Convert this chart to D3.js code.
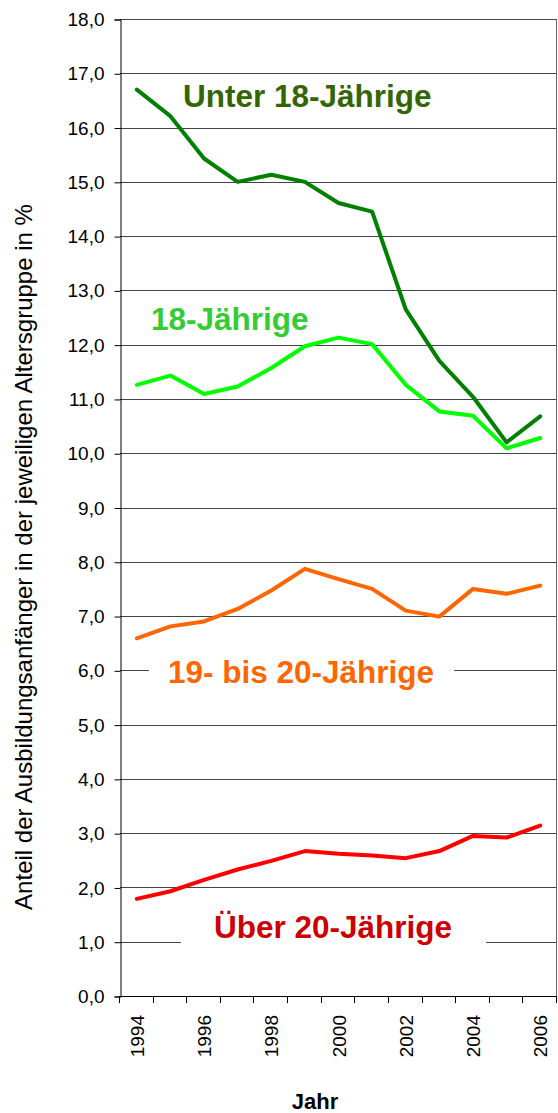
<!DOCTYPE html>
<html>
<head>
<meta charset="utf-8">
<script src="https://cdn.jsdelivr.net/npm/d3@7"></script>
<style>
  body { margin: 0; background: #fff; }
  svg { display: block; }
</style>
</head>
<body>
<svg></svg>
<script>
// data
let years = [1994, 1995, 1996, 1997, 1998, 1999, 2000, 2001, 2002, 2003, 2004, 2005, 2006];
let unter18 = [16.70, 16.21, 15.43, 15.00, 15.13, 15.00, 14.61, 14.45, 12.65, 11.70, 11.04, 10.20, 10.68];
let jahr18 = [11.26, 11.43, 11.09, 11.23, 11.57, 11.97, 12.13, 12.01, 11.26, 10.77, 10.69, 10.09, 10.28];
let jahr19bis20 = [6.59, 6.81, 6.90, 7.13, 7.47, 7.87, 7.68, 7.50, 7.10, 6.99, 7.50, 7.41, 7.56];
let ueber20 = [1.79, 1.93, 2.14, 2.33, 2.49, 2.67, 2.62, 2.59, 2.54, 2.67, 2.95, 2.92, 3.14];
let yTicks = d3.range(0, 19, 1);
let xLabels = [1994, 1996, 1998, 2000, 2002, 2004, 2006];

let svgWidth = 558,
    svgHeight = 1113;

let font = 'Liberation Sans, Arial, sans-serif';

let svg = d3.select('svg')
            .attr('width', svgWidth)
            .attr('height', svgHeight);

let plotLeft = 120, plotRight = 557, plotTop = 19, plotBottom = 996;

let x = d3.scaleBand()
          .domain(years)
          .range([plotLeft, plotRight])
          .padding(0);

let y = d3.scaleLinear()
          .domain([0, 18])
          .range([plotBottom, plotTop]);

// horizontal gridlines
svg.append('g')
   .selectAll('line')
   .data(yTicks)
   .join('line')
   .attr('x1', plotLeft)
   .attr('x2', plotRight)
   .attr('y1', d => Math.round(y(d)) + 0.5)
   .attr('y2', d => Math.round(y(d)) + 0.5)
   .attr('stroke', '#444')
   .attr('stroke-width', 1);

// right border
svg.append('line')
   .attr('x1', plotRight - 0.5).attr('x2', plotRight - 0.5)
   .attr('y1', Math.round(y(18)) + 0.5).attr('y2', plotBottom)
   .attr('stroke', '#666');

// y axis
let yAxis = d3.axisLeft(y)
              .tickValues(yTicks)
              .tickSize(6)
              .tickFormat(d => d3.format('.1f')(d).replace('.', ','));

let gy = svg.append('g')
            .attr('transform', `translate(${plotLeft + 0.5},0.5)`)
            .call(yAxis);
gy.select('.domain').attr('stroke', '#000');
gy.selectAll('.tick line').attr('stroke', '#000');
gy.selectAll('.tick text')
  .attr('x', -16)
  .attr('fill', '#000')
  .style('font-family', font)
  .style('font-size', '19px');

// x axis: ticks at category boundaries
let bounds = years.map(d => x(d)).concat([x(years[years.length - 1]) + x.bandwidth()]);
svg.append('line')
   .attr('x1', plotLeft).attr('x2', plotRight)
   .attr('y1', Math.round(plotBottom) + 0.5).attr('y2', Math.round(plotBottom) + 0.5)
   .attr('stroke', '#000');
svg.append('g')
   .selectAll('line')
   .data(bounds)
   .join('line')
   .attr('x1', d => Math.round(d) - 0.5)
   .attr('x2', d => Math.round(d) - 0.5)
   .attr('y1', plotBottom)
   .attr('y2', plotBottom + 7)
   .attr('stroke', '#000');

svg.append('g')
   .selectAll('text')
   .data(xLabels)
   .join('text')
   .attr('transform', d => `translate(${x(d) + x.bandwidth() / 2 + 7},${plotBottom + 19}) rotate(-90)`)
   .attr('text-anchor', 'end')
   .style('font-family', font)
   .style('font-size', '19px')
   .text(d => d);

// axis titles
svg.append('text')
   .attr('transform', `translate(32,557) rotate(-90)`)
   .attr('text-anchor', 'middle')
   .style('font-family', font)
   .style('font-size', '24px')
   .text('Anteil der Ausbildungsanfänger in der jeweiligen Altersgruppe  in %');

svg.append('text')
   .attr('x', 315)
   .attr('y', 1109)
   .attr('text-anchor', 'middle')
   .style('font-family', font)
   .style('font-size', '22px')
   .style('font-weight', 'bold')
   .text('Jahr');

// series lines
let line = d3.line()
             .x((d, i) => x(years[i]) + x.bandwidth() / 2)
             .y(d => y(d));

let series = [
  { values: unter18, color: '#008000' },
  { values: jahr18, color: '#00ff00' },
  { values: jahr19bis20, color: '#ff6600' },
  { values: ueber20, color: '#ff0000' }
];

svg.append('g')
   .selectAll('path')
   .data(series)
   .join('path')
   .attr('d', d => line(d.values))
   .attr('fill', 'none')
   .attr('stroke', d => d.color)
   .attr('stroke-width', 4)
   .attr('stroke-linejoin', 'round')
   .attr('stroke-linecap', 'round');

// label boxes covering the gridlines
svg.append('rect')
   .attr('x', 149).attr('y', 656).attr('width', 305).attr('height', 34)
   .attr('fill', '#fff');
svg.append('rect')
   .attr('x', 181).attr('y', 912).attr('width', 305).attr('height', 36)
   .attr('fill', '#fff');

let labels = [
  { text: 'Unter 18-Jährige', x: 183, y: 107, color: '#336600' },
  { text: '18-Jährige', x: 151, y: 330, color: '#33cc33' },
  { text: '19- bis 20-Jährige', x: 168, y: 683, color: '#ff6600' },
  { text: 'Über 20-Jährige', x: 214, y: 938, color: '#cc0000' }
];

svg.append('g')
   .selectAll('text')
   .data(labels)
   .join('text')
   .attr('x', d => d.x)
   .attr('y', d => d.y)
   .attr('fill', d => d.color)
   .style('font-family', font)
   .style('font-size', '31.5px')
   .style('font-weight', 'bold')
   .text(d => d.text);
</script>
</body>
</html>
